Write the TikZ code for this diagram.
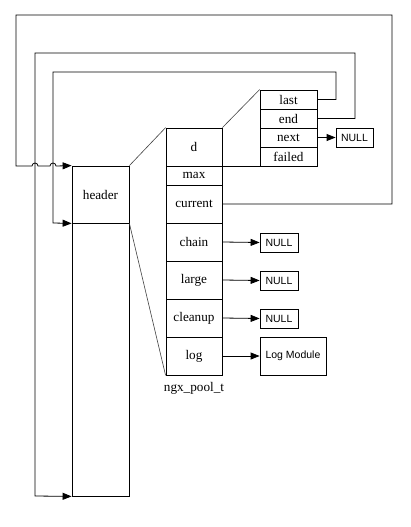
\documentclass[tikz,border=0pt]{standalone}
\usepackage{fontspec}
\setmainfont{Liberation Serif}
\newfontfamily\nullface{Liberation Sans}
\usetikzlibrary{arrows.meta}

\begin{document}
\begin{tikzpicture}[x=1pt, y=-1pt,
    cell/.style={draw, line width=0.8pt, inner sep=0pt, minimum width=56pt, font=\fontsize{13.2}{15}\selectfont},
    tall/.style={cell, minimum height=38pt},
    flat/.style={cell, minimum height=19pt},
    nullbox/.style={draw, line width=0.8pt, inner sep=0pt, minimum width=37pt, minimum height=19pt, font=\nullface\fontsize{10.5}{12}\selectfont},
    link/.style={line width=0.8pt, -{Triangle[length=9pt,width=7pt]}},
    loop/.style={line width=0.8pt},
    slant/.style={line width=0.6pt, black!75}]
    \useasboundingbox (0,0) rectangle (411,527);

    % header column
    \node[cell, minimum width=57pt, minimum height=57pt] (header) at (100.5,194.5) {header};
    \node[cell, minimum width=57pt, minimum height=273pt] (rest) at (100.5,359.5) {};

    % ngx_pool_t
    \node[tall] (d) at (194,147) {d};
    \node[flat] (max) at (194,175.5) {max};
    \node[tall] (current) at (194,204) {current};
    \node[tall] (chain) at (194,242) {chain};
    \node[tall] (large) at (194,280) {large};
    \node[tall] (cleanup) at (194,318) {cleanup};
    \node[tall] (log) at (194,356) {log};
    \node[font=\fontsize{13.2}{15}\selectfont] (pooltype) at (194,388) {ngx\_pool\_t};

    % data part
    \node[flat, minimum width=57pt] (last) at (288.5,99.5) {last};
    \node[flat, minimum width=57pt] (end) at (288.5,118.5) {end};
    \node[flat, minimum width=57pt] (next) at (288.5,137.5) {next};
    \node[flat, minimum width=57pt] (failed) at (288.5,156.5) {failed};

    % targets
    \node[nullbox] (nextnull) at (354.5,137.5) {NULL};
    \node[nullbox, minimum width=38pt] (chainnull) at (279,242.5) {NULL};
    \node[nullbox, minimum width=38pt] (largenull) at (279,280.5) {NULL};
    \node[nullbox, minimum width=38pt] (cleanupnull) at (279,318.5) {NULL};
    \node[nullbox, minimum width=66pt, minimum height=38pt] (logmod) at (293,356) {Log Module};

    % expansion lines
    \draw[slant] (header.north east) -- (d.north west);
    \draw[slant] (header.south east) -- (log.south west);
    \draw[slant] (d.north east) -- (last.north west);
    \draw[loop] (failed.south west) -- (d.south east);

    % pointers
    \draw[link] (next.east) -- (nextnull.west);
    \draw[link] (chain.east) -- (chainnull.west);
    \draw[link] (large.east) -- (largenull.west);
    \draw[link] (cleanup.east) -- (cleanupnull.west);
    \draw[link] (log.east) -- (logmod.west);

    % back pointers
    \draw[link] (current.east) -- (392,204) -- (392,15) -- (16,15) -- (16,166)
        -- (32,166) arc[start angle=180, end angle=0, radius=3pt]
        -- (50,166) arc[start angle=180, end angle=0, radius=3pt]
        -- (header.north west);
    \draw[link] (end.east) -- (355,118.5) -- (355,53) -- (35,53) -- (35,496) -- (rest.south west);
    \draw[link] (last.east) -- (336,99.5) -- (336,72) -- (53,72) -- (53,223) -- (header.south west);
\end{tikzpicture}
\end{document}
